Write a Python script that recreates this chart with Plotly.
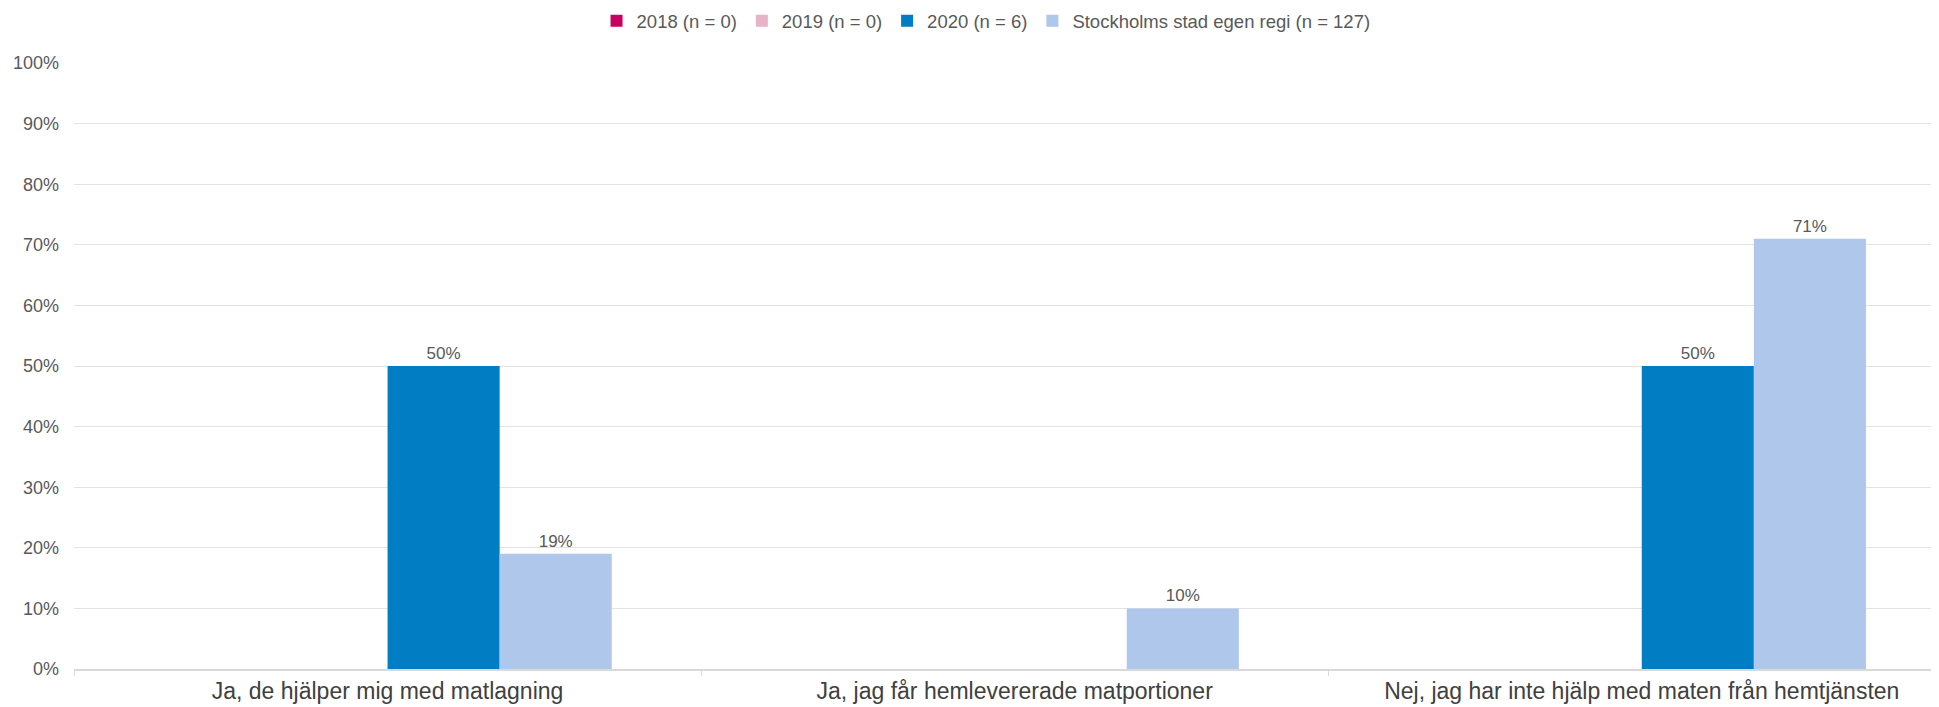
import plotly.graph_objects as go

categories = [
    "Ja, de hjälper mig med matlagning",
    "Ja, jag får hemlevererade matportioner",
    "Nej, jag har inte hjälp med maten från hemtjänsten",
]
series_names = [
    "2018 (n = 0)",
    "2019 (n = 0)",
    "2020 (n = 6)",
    "Stockholms stad egen regi (n = 127)",
]
values_2018 = [0, 0, 0]
values_2019 = [0, 0, 0]
values_2020 = [50, 0, 50]
values_sthlm = [19, 10, 71]
series_values = [values_2018, values_2019, values_2020, values_sthlm]
colors = ["#C8005F", "#E8B3C7", "#007DC3", "#AEC7EA"]
y_ticks = list(range(0, 101, 10))
y_tick_labels = [f"{v}%" for v in y_ticks]

FONT = "Liberation Sans, Arial, sans-serif"
GRAY = "#595959"

fig = go.Figure()
for name, vals, col in zip(series_names, series_values, colors):
    fig.add_trace(go.Bar(
        name=name,
        x=categories,
        y=vals,
        marker=dict(color=col, line=dict(width=0)),
        text=[f"{v}%" if v > 0 else "" for v in vals],
        textposition="outside",
        textfont=dict(family=FONT, size=17, color=GRAY),
        cliponaxis=False,
    ))

# page body has an 8px default margin, so the figure is sized/offset to compensate
fig.update_layout(
    width=1931,
    height=699,
    margin=dict(l=66, r=0, t=55, b=38, autoexpand=False),
    paper_bgcolor="white",
    plot_bgcolor="white",
    barmode="group",
    bargap=0.285,
    bargroupgap=0,
    font=dict(family=FONT, color=GRAY),
    legend=dict(
        orientation="h",
        xref="container", yref="container",
        x=0.5065, xanchor="center",
        y=0.981, yanchor="middle",
        font=dict(family=FONT, size=18.5, color=GRAY),
        itemwidth=30,
        traceorder="normal",
    ),
    xaxis=dict(
        type="category",
        range=[-0.5, 2.474],
        automargin=False,
        showgrid=False,
        showline=True,
        linecolor="#D9D9D9",
        linewidth=1.5,
        ticks="outside",
        tickson="boundaries",
        ticklen=5,
        tickcolor="#D9D9D9",
        tickfont=dict(family=FONT, size=23, color="#404040"),
        ticklabelstandoff=1,
    ),
    yaxis=dict(
        range=[0, 100],
        automargin=False,
        tickmode="array",
        tickvals=y_ticks,
        ticktext=y_tick_labels,
        showgrid=True,
        gridcolor="#E3E3E3",
        gridwidth=1,
        zeroline=False,
        showline=False,
        tickfont=dict(family=FONT, size=18, color=GRAY),
        ticklabelstandoff=14,
    ),
)

fig.write_html("out.html")
